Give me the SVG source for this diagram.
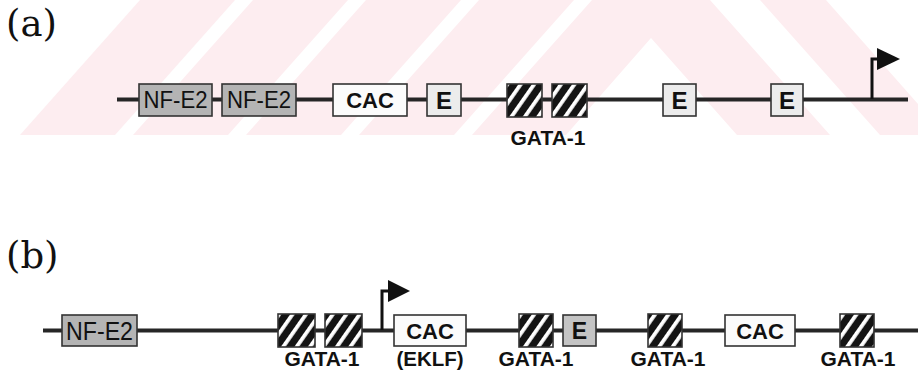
<svg xmlns="http://www.w3.org/2000/svg" width="918" height="382" viewBox="0 0 918 382">
<style>
.wm{fill:#fdedf0}
.bb{stroke:#262626;stroke-width:3.8;fill:none}
.ar{stroke:#111;stroke-width:3;fill:none}
.box{stroke:#333;stroke-width:1.6}
.nf{fill:#b4b4b4}
.cac{fill:#fbfbfb}
.ea{fill:#ececec}
.eb{fill:#c4c4c4}
.hat{fill:url(#hatch)}
.t{font-family:"Liberation Sans",Arial,sans-serif;fill:#111;text-anchor:middle}
.lbl{font-family:"DejaVu Serif","Liberation Serif",serif;font-size:37px;fill:#111}
</style>
<defs>
<pattern id="hatch" patternUnits="userSpaceOnUse" width="11" height="11" patternTransform="rotate(35)">
<rect width="11" height="11" fill="#141414"/>
<rect x="0" y="0" width="3.8" height="11" fill="#ffffff"/>
</pattern>
</defs>
<g id="watermark">
<polygon class="wm" points="20,135 115,135 235,0 140,0"/>
<polygon class="wm" points="133,135 228,135 348,0 253,0"/>
<polygon class="wm" points="246,135 341,135 461,0 366,0"/>
<polygon class="wm" points="359,135 454,135 574,0 479,0"/>
<polygon class="wm" points="472,135 566,135 651,38 737,135 830,135 710,0 592,0"/>
<polygon class="wm" points="760,0 826,0 918,104 918,135 880,135"/>
</g>
<text class="lbl" x="6" y="36">(a)</text>
<text class="lbl" x="6" y="268">(b)</text>
<g id="connectors">
<line class="bb" x1="117" y1="99.5" x2="908" y2="99.5"/>
<polyline class="ar" points="872,99 872,59 879,59"/>
<polygon points="877,48 900,59 877,70" fill="#111"/>
<line class="bb" x1="43" y1="330.5" x2="918" y2="330.5"/>
<polyline class="ar" points="382,330 382,291 389,291"/>
<polygon points="388,280 410,291 388,302" fill="#111"/>
</g>
<g id="a-nfe2-1"><rect class="box nf" x="139" y="84" width="73" height="32"/><text class="t" x="175.5" y="108" font-size="23" textLength="64" lengthAdjust="spacingAndGlyphs">NF-E2</text></g>
<g id="a-nfe2-2"><rect class="box nf" x="222" y="84" width="74" height="32"/><text class="t" x="259" y="108" font-size="23" textLength="64" lengthAdjust="spacingAndGlyphs">NF-E2</text></g>
<g id="a-cac"><rect class="box cac" x="333" y="84" width="74" height="32"/><text class="t" x="370" y="108" font-size="22" font-weight="bold">CAC</text></g>
<g id="a-e1"><rect class="box ea" x="427" y="84" width="34" height="32"/><text class="t" x="444" y="108.5" font-size="24" font-weight="bold">E</text></g>
<g id="a-gata1"><rect class="box hat" x="507" y="84" width="35" height="33"/></g>
<g id="a-gata2"><rect class="box hat" x="552" y="84" width="35" height="33"/></g>
<text class="t" x="548" y="145" font-size="21" font-weight="bold">GATA-1</text>
<g id="a-e2"><rect class="box ea" x="663" y="84" width="33" height="32"/><text class="t" x="679.5" y="108.5" font-size="24" font-weight="bold">E</text></g>
<g id="a-e3"><rect class="box ea" x="771" y="84" width="32" height="32"/><text class="t" x="787" y="108.5" font-size="24" font-weight="bold">E</text></g>

<g id="b-nfe2"><rect class="box nf" x="62" y="315" width="75" height="31"/><text class="t" x="99.5" y="339.5" font-size="25" textLength="67" lengthAdjust="spacingAndGlyphs">NF-E2</text></g>
<g id="b-gata1"><rect class="box hat" x="278" y="314" width="37" height="33"/></g>
<g id="b-gata2"><rect class="box hat" x="325" y="314" width="37" height="33"/></g>
<text class="t" x="322" y="366" font-size="21" font-weight="bold">GATA-1</text>
<g id="b-cac1"><rect class="box cac" x="394" y="315" width="72" height="31"/><text class="t" x="430" y="339" font-size="22" font-weight="bold">CAC</text></g>
<text class="t" x="430" y="366" font-size="20.5" font-weight="bold">(EKLF)</text>
<g id="b-gata3"><rect class="box hat" x="519" y="314" width="34" height="33"/></g>
<g id="b-e"><rect class="box eb" x="563" y="315" width="33" height="31"/><text class="t" x="579.5" y="339" font-size="23" font-weight="bold">E</text></g>
<text class="t" x="536" y="366" font-size="21" font-weight="bold">GATA-1</text>
<g id="b-gata4"><rect class="box hat" x="648" y="314" width="34" height="33"/></g>
<text class="t" x="668" y="366" font-size="21" font-weight="bold">GATA-1</text>
<g id="b-cac2"><rect class="box cac" x="725" y="315" width="70" height="31"/><text class="t" x="760" y="339" font-size="22" font-weight="bold">CAC</text></g>
<g id="b-gata5"><rect class="box hat" x="840" y="314" width="34" height="33"/></g>
<text class="t" x="858" y="366" font-size="21" font-weight="bold">GATA-1</text>
</svg>
